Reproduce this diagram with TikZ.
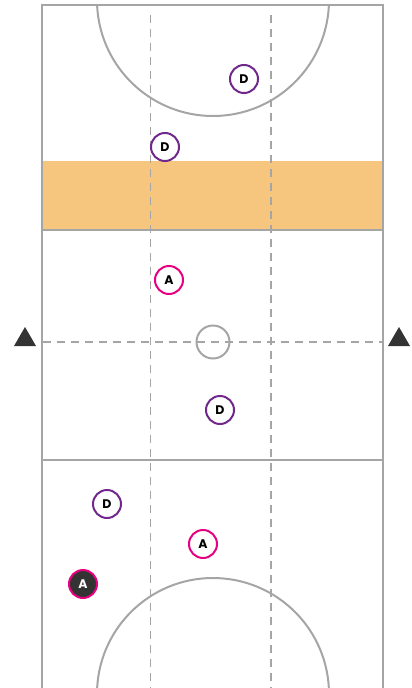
\documentclass[tikz,border=0pt]{standalone}
\usepackage{fontspec}
\setsansfont{Poppins}
\usepackage{xcolor}
\usetikzlibrary{positioning}
\definecolor{crt}{RGB}{165,165,165}
\definecolor{third}{RGB}{246,198,126}
\definecolor{dfn}{RGB}{112,40,140}
\definecolor{att}{RGB}{232,0,128}
\definecolor{ink}{RGB}{51,51,51}

\begin{document}
\begin{tikzpicture}[x=1pt,y=-1pt,
  court/.style={draw=crt,line width=2pt},
  split/.style={draw=crt,line width=1.2pt,dash pattern=on 8pt off 6pt},
  dfnp/.style={circle,draw=dfn,fill=white,line width=2pt,minimum size=28pt,inner sep=0pt,font=\sffamily\bfseries\fontsize{12.5}{12.5}\selectfont},
  attp/.style={dfnp,draw=att},
  ballp/.style={attp,fill=ink,text=white}]
  \useasboundingbox (0,0) rectangle (412,688);
  % centre third band
  \fill[third] (42,161) rectangle (383,230);
  % dashed lines
  \draw[split] (150.7,15) -- (150.7,688);
  \draw[split] (271,15) -- (271,688);
  \draw[split] (43,342) -- (383,342);
  % circles
  \begin{scope}
    \clip (42,5) rectangle (383,688);
    \draw[court] (213,0) circle[radius=116pt];
    \draw[court] (213,694) circle[radius=116pt];
  \end{scope}
  \draw[court] (213,342) circle[radius=16.5pt];
  % court lines
  \draw[court] (42,700) -- (42,5) -- (383,5) -- (383,700);
  \draw[court] (42,230) -- (383,230);
  \draw[court] (42,460) -- (383,460);
  % flags
  \fill[ink] (14,346) -- (25,327) -- (36,346) -- cycle;
  \fill[ink] (388,346) -- (399,327) -- (410,346) -- cycle;
  % players
  \node[dfnp] (d1) at (244,79) {D};
  \node[dfnp] (d2) at (165,147) {D};
  \node[attp] (a1) at (169,280) {A};
  \node[dfnp] (d3) at (220,410) {D};
  \node[dfnp] (d4) at (107,504) {D};
  \node[attp] (a2) at (203,544) {A};
  \node[ballp] (a3) at (83,584) {A};
\end{tikzpicture}
\end{document}
